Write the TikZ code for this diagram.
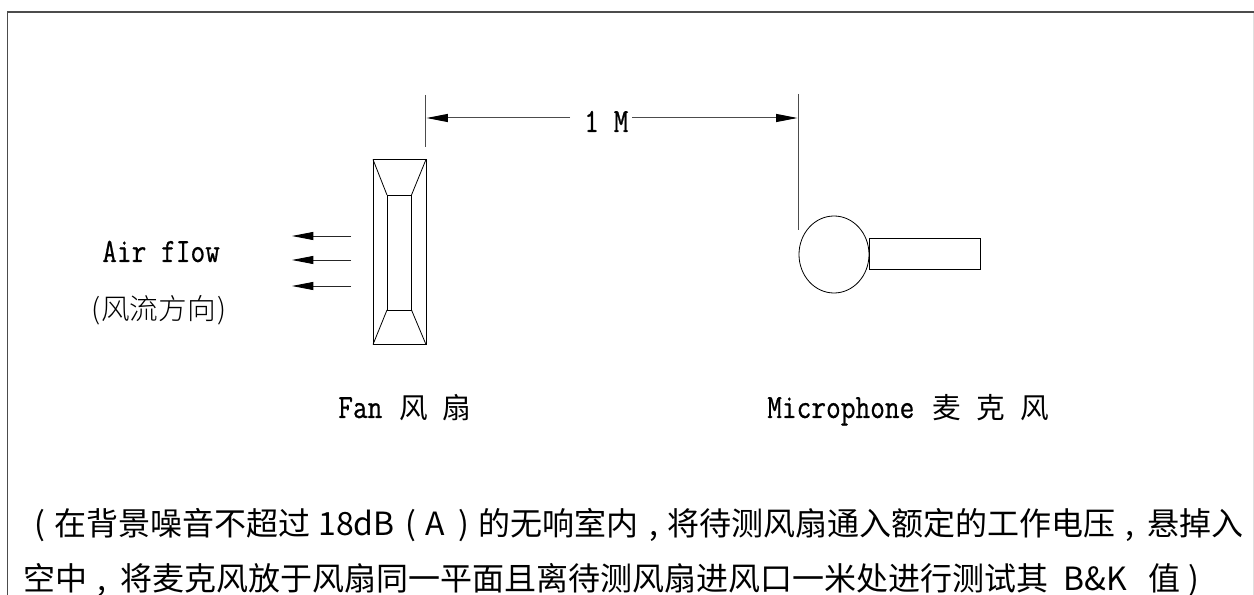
\documentclass[tikz,border=0pt]{standalone}
\usepackage{fontspec}
\newfontfamily\cjk{Noto Sans CJK SC}
\newfontfamily\cjkl{Noto Sans CJK SC Light}
\newfontfamily\monof[FakeStretch=0.84,FakeBold=0.6]{Latin Modern Mono}
\usetikzlibrary{arrows.meta}
\tikzset{
  x=0.75pt,y=-0.75pt,
  thin line/.style={draw=black,line width=0.6pt},
  dim line/.style={draw=black!70,line width=0.75pt},
  headed/.style={-{Triangle[length=16pt,width=6pt,black]}},
  flow/.style={draw=black!85,line width=0.6pt,headed},
  label/.style={inner sep=0pt,anchor=base west,font=\fontsize{25.5}{26}\monof\selectfont},
  cn/.style={inner sep=0pt,anchor=base west,font=\fontsize{21.5}{22}\cjkl\selectfont},
  cnb/.style={inner sep=0pt,anchor=base west,font=\fontsize{21.5}{22}\cjk\selectfont},
  note/.style={inner sep=0pt,anchor=base west,font=\fontsize{24}{24}\cjk\selectfont}
}
\begin{document}
\begin{tikzpicture}
\useasboundingbox (0,0) rectangle (1254,595);
\fill[white] (0,0) rectangle (1254,595);
% frame
\coordinate (fbl) at (7.5,595); \coordinate (ftl) at (7.5,12); \coordinate (ftr) at (1253.5,12); \coordinate (fbr) at (1253.5,595);
\draw[draw=black!12,line width=0.75pt] (ftr) -- (fbr);
\draw[draw=black!70,line width=1.1pt] (fbl) -- (ftl) -- (ftr);
% dimension
\coordinate (e1t) at (425,95); \coordinate (e1b) at (425,147);
\coordinate (e2t) at (798,94); \coordinate (e2b) at (798,230);
\draw[dim line] (e1t) -- (e1b);
\draw[dim line] (e2t) -- (e2b);
\node[label] (onem) at (584,132) {1 M};
\coordinate (a1) at (426.5,118); \coordinate (a2) at (797.5,118);
\coordinate (a1s) at (570,118); \coordinate (a2s) at (632,118);
\draw[dim line,headed] (a1s) -- (a1);
\draw[dim line,headed] (a2s) -- (a2);
% fan
\draw[thin line] (373,159.5) rectangle (426,344.5);
\draw[thin line] (387,195) rectangle (411.5,310);
\draw[thin line] (373,159.5) -- (387,195) (426,159.5) -- (411.5,195) (373,344.5) -- (387,310) (426,344.5) -- (411.5,310);
% flow arrows
\coordinate (f1s) at (351,236); \coordinate (f1e) at (292,236);
\coordinate (f2s) at (351,260); \coordinate (f2e) at (292,260);
\coordinate (f3s) at (351,286); \coordinate (f3e) at (292,286);
\draw[flow] (f1s) -- (f1e);
\draw[flow] (f2s) -- (f2e);
\draw[flow] (f3s) -- (f3e);
% mic
\draw[thin line] (834,254.5) circle [x radius=35,y radius=38.5];
\draw[thin line] (869.5,238.5) rectangle (980,269);
% labels
\node[label] (air) at (102,262) {Air fIow};
\node[cn] (aircl) at (91,319.5) {(};
\node[cn] (airc) at (101,319.5) {风流方向};
\node[cn] (aircr) at (217,319.5) {)};
\node[label] (fan) at (338,418) {Fan};
\node[cnb] (fanc1) at (399,419) {风};
\node[cnb] (fanc2) at (442,419) {扇};
\node[label] (mic) at (767,418) {Microphone};
\node[cnb] (mc1) at (932,419) {麦};
\node[cnb] (mc2) at (976,419) {克};
\node[cnb] (mc3) at (1020,419) {风};
% note, line 1
\node[note] (l1a) at (34,535) {(};
\node[note] (l1b) at (54,535) {在背景噪音不超过};
\node[note] (l1c) at (318,535) {18dB};
\node[note] (l1d) at (405,535) {(};
\node[note] (l1e) at (425,535) {A};
\node[note] (l1f) at (458,535) {)};
\node[note] (l1g) at (478,535) {的无响室内};
\node[note] (l1h) at (649,535) {,};
\node[note] (l1i) at (667,535) {将待测风扇通入额定的工作电压};
\node[note] (l1j) at (1125,535) {,};
\node[note] (l1k) at (1147,535) {悬掉入};
% note, line 2
\node[note] (l2a) at (23,590) {空中};
\node[note] (l2b) at (97,590) {,};
\node[note] (l2c) at (120,590) {将麦克风放于风扇同一平面且离待测风扇进风口一米处进行测试其};
\node[note] (l2d) at (1063,590) {B\&K};
\node[note] (l2e) at (1148,590) {值};
\node[note] (l2f) at (1188,590) {)};
\end{tikzpicture}
\end{document}
